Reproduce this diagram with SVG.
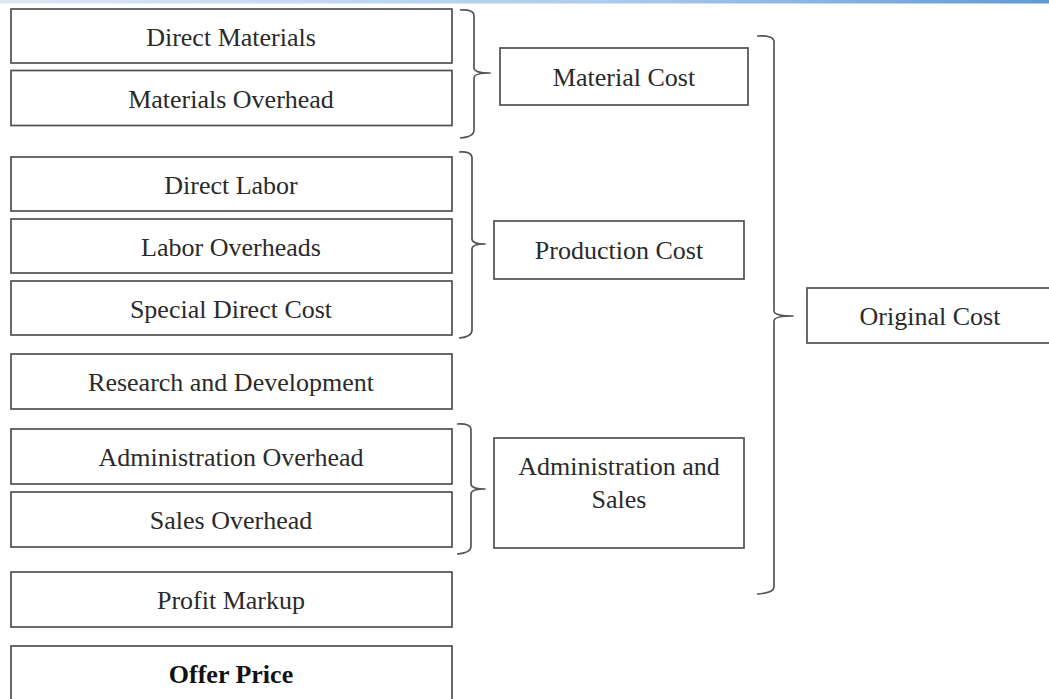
<svg xmlns="http://www.w3.org/2000/svg" width="1049" height="699" viewBox="0 0 1049 699">
  <defs>
    <linearGradient id="topBar" x1="0" y1="0" x2="1" y2="0">
      <stop offset="0" stop-color="#dbe8f6"/>
      <stop offset="0.6" stop-color="#a9c9ec"/>
      <stop offset="1" stop-color="#5d9ad6"/>
    </linearGradient>
  </defs>
  <style>
    .box { fill: #ffffff; stroke: #505050; stroke-width: 1.7; }
    .lbl { font-family: "Liberation Serif", "Times New Roman", serif; font-size: 26px; fill: #2a2a2a; text-anchor: middle; }
    .bold { font-weight: bold; fill: #111111; }
    .brace { fill: none; stroke: #555555; stroke-width: 1.7; stroke-linejoin: round; }
  </style>

  <rect x="0" y="0" width="1049" height="3.5" fill="url(#topBar)"/>

  <!-- cost items -->
  <g id="direct-materials">
    <rect class="box" x="11" y="9" width="441" height="54"/>
    <text class="lbl" x="231" y="46">Direct Materials</text>
  </g>
  <g id="materials-overhead">
    <rect class="box" x="11" y="70.5" width="441" height="55"/>
    <text class="lbl" x="231" y="107.5">Materials Overhead</text>
  </g>
  <g id="direct-labor">
    <rect class="box" x="11" y="157" width="441" height="54"/>
    <text class="lbl" x="231" y="194">Direct Labor</text>
  </g>
  <g id="labor-overheads">
    <rect class="box" x="11" y="219" width="441" height="54"/>
    <text class="lbl" x="231" y="256">Labor Overheads</text>
  </g>
  <g id="special-direct-cost">
    <rect class="box" x="11" y="281" width="441" height="54"/>
    <text class="lbl" x="231" y="318">Special Direct Cost</text>
  </g>
  <g id="research-development">
    <rect class="box" x="11" y="354" width="441" height="55"/>
    <text class="lbl" x="231" y="391">Research and Development</text>
  </g>
  <g id="administration-overhead">
    <rect class="box" x="11" y="429" width="441" height="55"/>
    <text class="lbl" x="231" y="466">Administration Overhead</text>
  </g>
  <g id="sales-overhead">
    <rect class="box" x="11" y="492" width="441" height="55"/>
    <text class="lbl" x="231" y="529">Sales Overhead</text>
  </g>
  <g id="profit-markup">
    <rect class="box" x="11" y="572" width="441" height="55"/>
    <text class="lbl" x="231" y="609">Profit Markup</text>
  </g>
  <g id="offer-price">
    <rect class="box" x="11" y="646" width="441" height="60"/>
    <text class="lbl bold" x="231" y="683">Offer Price</text>
  </g>

  <!-- subtotals -->
  <g id="material-cost">
    <rect class="box" x="500" y="48" width="248" height="57"/>
    <text class="lbl" x="624" y="86">Material Cost</text>
  </g>
  <g id="production-cost">
    <rect class="box" x="494" y="221" width="250" height="58"/>
    <text class="lbl" x="619" y="259">Production Cost</text>
  </g>
  <g id="administration-sales">
    <rect class="box" x="494" y="438" width="250" height="110"/>
    <text class="lbl" x="619" y="475">Administration and</text>
    <text class="lbl" x="619" y="508">Sales</text>
  </g>
  <g id="original-cost">
    <rect class="box" x="807" y="288" width="250" height="55"/>
    <text class="lbl" x="930" y="325">Original Cost</text>
  </g>

  <!-- grouping braces -->
  <g id="connectors">
    <path class="brace" d="M460 10 Q474 9 474 16 V68 Q474 73 490 73 Q474 73 474 78 V130 Q474 137 460 138"/>
    <path class="brace" d="M459 152 Q472 151 472 158 V239 Q472 244 485 244 Q472 244 472 249 V330 Q472 337 459 338"/>
    <path class="brace" d="M457 424 Q471 423 471 430 V484 Q471 489 485 489 Q471 489 471 494 V546 Q471 553 457 554"/>
    <path class="brace" d="M757 36 Q774 35 774 42 V311 Q774 316 793 316 Q774 316 774 321 V587 Q774 593 757 594"/>
  </g>
</svg>
